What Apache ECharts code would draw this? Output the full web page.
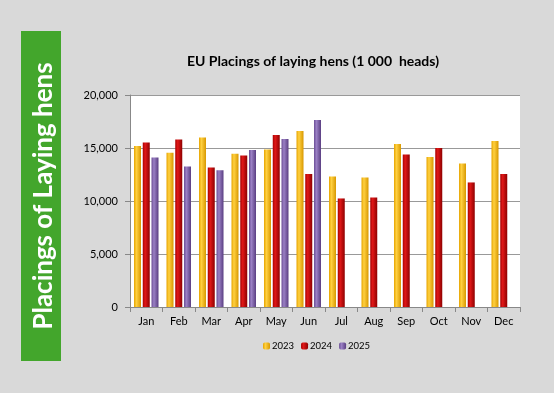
<!DOCTYPE html>
<html><head><meta charset="utf-8">
<script src="https://cdn.jsdelivr.net/npm/echarts@6/dist/echarts.min.js"></script>
<style>html,body{margin:0;padding:0;background:#D9D9D9;}#c{width:554px;height:393px;}</style>
</head><body><div id="c"></div>
<script>
const months = ['Jan','Feb','Mar','Apr','May','Jun','Jul','Aug','Sep','Oct','Nov','Dec'];
const y2023 = [15200,14550,16000,14460,14870,16600,12310,12220,15370,14140,13540,15650];
const y2024 = [15530,15810,13170,14300,16220,12540,10240,10330,14390,14990,11750,12540];
const y2025 = [14110,13260,12910,14800,15840,17640,null,null,null,null,null,null];
const yTicks = [0,5000,10000,15000,20000];

function grad(a,b,c){return {type:'linear',x:0,y:0,x2:1,y2:0,colorStops:[{offset:0,color:a},{offset:0.35,color:b},{offset:1,color:c}]};}
const font = 'Lato, "Open Sans", sans-serif';
const chart = echarts.init(document.getElementById('c'));
chart.setOption({
  backgroundColor:'#D9D9D9',
  animation:false,
  title:{text:'EU Placings of laying hens (1 000  heads)',left:308,textAlign:'center',top:49,
    textStyle:{fontFamily:font,fontWeight:'bold',fontSize:14,color:'#000'}},
  graphic:[
    {type:'rect',shape:{x:21,y:31,width:40,height:330},style:{fill:'#43A62C'}},
    {type:'text',x:44,y:196,rotation:Math.PI/2,style:{text:'Placings of Laying hens',fill:'#fff',
      font:'bold 26px '+font,textAlign:'center',textVerticalAlign:'middle'}}
  ],
  legend:{top:336,left:258,itemWidth:7,itemHeight:7,itemGap:7,
    textStyle:{fontFamily:font,fontSize:9.5,color:'#000',padding:[0,0,0,-3]},
    data:['2023','2024','2025']},
  grid:{left:130,top:95,right:34,bottom:86,show:true,backgroundColor:'#fff',borderWidth:0},
  xAxis:{type:'category',data:months,
    axisLine:{lineStyle:{color:'#888'}},
    axisTick:{show:true,length:5,lineStyle:{color:'#888'}},
    axisLabel:{fontFamily:font,fontSize:11,color:'#000',margin:9}},
  yAxis:{type:'value',min:yTicks[0],max:yTicks[yTicks.length-1],interval:5000,
    axisLine:{show:true,lineStyle:{color:'#888'}},
    axisTick:{show:true,length:5,lineStyle:{color:'#888'}},
    splitLine:{lineStyle:{color:'#999',width:1}},
    axisLabel:{fontFamily:font,fontSize:11,color:'#000',margin:12,
      formatter:v=>v.toLocaleString('en-US')}},
  series:[
    {name:'2023',type:'bar',data:y2023,barWidth:7,barGap:'25%',
      itemStyle:{color:grad('#E6A400','#FFD040','#D89800')}},
    {name:'2024',type:'bar',data:y2024,barWidth:7,barGap:'25%',
      itemStyle:{color:grad('#A80000','#E01818','#8E0000')}},
    {name:'2025',type:'bar',data:y2025,barWidth:7,barGap:'25%',
      itemStyle:{color:grad('#6B4E96','#9A80C4','#5A3E82')}}
  ]
});
</script></body></html>
